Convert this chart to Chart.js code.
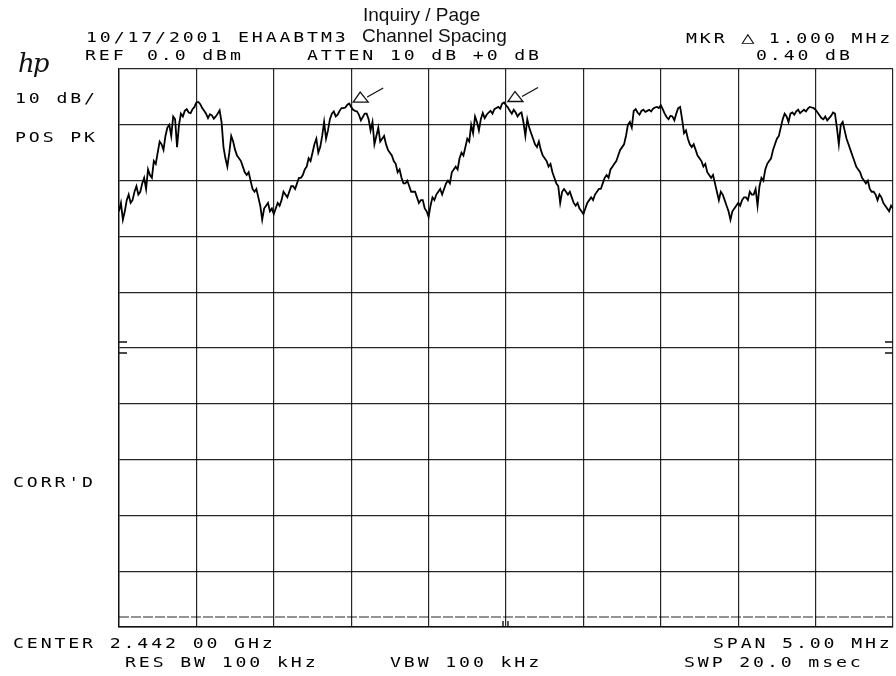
<!DOCTYPE html>
<html>
<head>
<meta charset="utf-8">
<script src="https://cdn.jsdelivr.net/npm/chart.js@4.4.1/dist/chart.umd.min.js"></script>
<style>
  html, body { margin: 0; padding: 0; background: #fff; overflow: hidden; }
  #wrap { position: relative; width: 896px; height: 676px; }
  canvas { position: absolute; left: 0; top: 0; }
  .plt { position: absolute; font-family: "DejaVu Sans Mono", monospace; font-size: 14px;
         line-height: 14px; letter-spacing: 2.2px; white-space: pre; color: #000;
         transform: scaleX(1.3); transform-origin: left top; }
  .plt .big { font-size: 17px; line-height: 14px; margin-right: -2px; }
  .ttl { position: absolute; font-family: "Liberation Sans", Arial, sans-serif; font-size: 19px;
         line-height: 19px; white-space: pre; color: #111; }
  .logo { position: absolute; font-family: "DejaVu Serif", serif; font-style: italic; font-size: 26px;
          line-height: 26px; color: #111; letter-spacing: -2px; }
</style>
</head>
<body>
<div id="wrap">
  <canvas id="spectrum" width="896" height="676"></canvas>

  <div class="ttl" style="left:363px; top:5px;">Inquiry / Page</div>
  <div class="plt" style="left:86px; top:30px;">10/17/2001 EHAABTM3</div>
  <div class="ttl" style="left:362px; top:26px;">Channel Spacing</div>
  <div class="plt" style="left:686px; top:30px;">MKR <span class="big">△</span> 1.000 MHz</div>

  <div class="logo" style="left:18px; top:50px;">hp</div>
  <div class="plt" style="left:85px; top:48px;">REF</div>
  <div class="plt" style="left:147px; top:48px;">0.0 dBm</div>
  <div class="plt" style="left:307px; top:48px;">ATTEN 10 dB +0 dB</div>
  <div class="plt" style="left:756px; top:48px;">0.40 dB</div>

  <div class="plt" style="left:15px; top:91px;">10 dB/</div>
  <div class="plt" style="left:15px; top:130px;">POS PK</div>
  <div class="plt" style="left:13px; top:475px;">CORR'D</div>

  <div class="plt" style="left:13px; top:636px;">CENTER 2.442 00 GHz</div>
  <div class="plt" style="left:713px; top:636px;">SPAN 5.00 MHz</div>
  <div class="plt" style="left:125px; top:655px;">RES BW 100 kHz</div>
  <div class="plt" style="left:390px; top:655px;">VBW 100 kHz</div>
  <div class="plt" style="left:684px; top:655px;">SWP 20.0 msec</div>
</div>

<script>
/************/
/*** DATA ***/
/************/

// Sweep: center 2442 MHz, span 5 MHz, 401 trace points
const startMHz = 2439.5;
const stopMHz = 2444.5;
const stepMHz = 0.0125;

// Trace levels in dBm from left to right
const traceDbm = [
  -25.5,-24.0,-27.0,-25.5,-23.5,-22.5,-24.0,-23.5,-22.0,-21.0,-22.5,-22.0,-20.5,-19.5,-21.5,-18.0,-19.0,-19.5,-16.5,-17.0,
  -15.0,-13.0,-13.5,-14.5,-12.0,-10.5,-10.0,-12.0, -8.5, -9.0,-14.0,-10.0, -8.0, -8.5, -7.5, -7.2, -7.8, -7.9, -7.2, -6.8,
   -6.0, -5.9, -6.3, -7.0, -7.5, -8.0, -8.8, -8.1, -8.3, -8.9, -8.5, -8.0, -7.4, -9.5,-14.0,-16.0,-17.5,-15.0,-12.0,-13.0,
  -14.5,-15.5,-16.0,-16.5,-17.5,-18.5,-19.0,-18.5,-20.0,-21.5,-22.0,-21.5,-23.0,-24.5,-27.0,-25.0,-24.5,-24.0,-25.5,-25.0,
  -26.0,-25.0,-24.0,-24.5,-23.5,-22.0,-22.5,-23.0,-22.0,-21.0,-21.0,-21.5,-20.5,-19.5,-19.5,-19.0,-18.0,-17.5,-16.0,-16.5,
  -15.0,-13.5,-12.5,-15.0,-14.0,-12.0, -9.5,-12.5,-11.0, -9.0, -8.0, -7.6, -8.5, -8.2, -7.5, -7.0, -7.0, -6.9, -6.4, -6.2,
   -6.8, -7.3, -7.5, -7.6, -8.2, -9.2, -8.6, -8.0, -8.0, -9.0,-11.0, -9.5,-13.5,-12.0,-10.5,-13.0,-12.5,-12.0,-13.5,-14.5,
  -15.0,-15.5,-16.5,-17.0,-18.5,-18.0,-19.5,-20.5,-20.5,-20.0,-21.0,-22.0,-22.0,-22.0,-23.0,-24.0,-23.5,-23.5,-25.0,-25.5,
  -26.5,-24.5,-23.0,-23.5,-22.5,-22.0,-21.5,-22.5,-21.5,-20.5,-20.0,-20.5,-18.5,-18.0,-17.5,-18.0,-16.0,-15.0,-15.5,-14.0,
  -12.5,-13.0,-10.0,-11.5, -8.5, -9.5,-11.0, -9.0, -7.9, -8.8, -8.2, -7.8, -7.5, -8.0, -7.2, -7.0, -6.8, -7.1, -6.2, -6.0,
   -6.5, -6.9, -7.5, -8.0, -7.3, -7.8, -8.5, -8.0, -7.8, -9.5,-12.0, -9.0,-10.5,-11.5,-12.5,-13.5,-14.0,-13.0,-14.5,-15.5,
  -16.0,-16.5,-17.5,-17.0,-18.5,-19.5,-20.5,-21.0,-24.0,-22.0,-21.5,-22.0,-22.5,-22.0,-23.0,-24.0,-24.5,-24.0,-25.0,-25.5,
  -26.0,-25.0,-24.0,-23.5,-23.0,-23.5,-22.5,-22.0,-21.5,-21.5,-20.5,-19.5,-19.0,-19.5,-18.0,-17.5,-17.0,-16.5,-15.5,-14.5,
  -14.0,-13.5,-12.0,-10.0, -9.5,-10.5, -7.5, -7.2, -7.8, -8.2, -7.5, -7.3, -7.7, -7.5, -7.3, -7.6, -7.1, -6.9, -6.8, -7.0,
   -6.5, -7.2, -8.0, -8.6, -9.0, -8.4, -8.5, -9.2, -8.0, -7.0, -6.8, -9.0,-11.5,-11.0,-12.5,-13.5,-14.0,-13.5,-14.5,-15.5,
  -16.0,-16.5,-17.5,-17.0,-18.5,-19.0,-19.5,-19.0,-20.5,-22.0,-23.5,-22.0,-22.5,-23.5,-24.5,-25.5,-27.0,-25.5,-25.0,-24.5,
  -24.0,-24.5,-23.5,-23.0,-23.0,-23.5,-22.0,-22.5,-22.5,-21.5,-24.5,-21.0,-19.5,-20.0,-18.0,-17.0,-16.5,-16.0,-14.5,-13.5,
  -12.5,-12.0,-10.5, -9.0, -8.0, -8.5, -9.5, -8.0, -7.8, -8.2, -7.6, -7.3, -7.9, -7.6, -7.3, -7.6, -7.1, -6.8, -6.9, -7.0,
   -7.3, -7.8, -8.3, -8.8, -9.0, -8.5, -9.2, -8.8, -8.4, -7.8, -8.0,-10.5,-13.5,-10.0, -9.5,-11.0,-12.5,-13.5,-14.5,-15.5,
  -16.5,-17.5,-18.0,-18.5,-19.5,-20.0,-20.5,-20.0,-21.5,-22.0,-22.0,-22.5,-23.5,-22.5,-23.0,-24.0,-24.5,-25.0,-25.5,-24.5,
  -25.0
];

// Delta marker pair (reference and active)
const markerFreqs = [2441.0, 2442.0];
const markerLevels = [-6.1, -6.0];

// Display line near the bottom of the screen
const displayLineDbm = -98.2;

// Screen: REF 0 dBm, 10 dB/div
const refLevelDbm = 0;
const dbPerDiv = 10;
const yDivisions = 10;


/*****************/
/*** FUNCTIONS ***/
/*****************/

function tracePoints() {
    return traceDbm.map((v, i) => ({x: startMHz + i * stepMHz, y: v}));
}

// Delta markers: small open triangle with an arrow pointing at it
const markerPlugin = {
    id: 'deltaMarkers',
    afterDatasetsDraw(chart) {
        const {ctx, scales: {x, y}} = chart;
        ctx.save();
        ctx.strokeStyle = '#111';
        ctx.fillStyle = '#fff';
        ctx.lineWidth = 1.3;
        markerFreqs.forEach((f, i) => {
            const px = x.getPixelForValue(f);
            const py = y.getPixelForValue(markerLevels[i]);
            ctx.beginPath();
            ctx.moveTo(px + 2, py - 1);
            ctx.lineTo(px + 9, py - 11);
            ctx.lineTo(px + 17, py - 1);
            ctx.closePath();
            ctx.fill();
            ctx.stroke();
            ctx.beginPath();
            ctx.moveTo(px + 16, py - 6);
            ctx.lineTo(px + 32, py - 15);
            ctx.stroke();
        });
        ctx.restore();
    }
};

// Graticule extras: centre-line ticks on both edges, centre tick at bottom
const screenPlugin = {
    id: 'screenTicks',
    afterDraw(chart) {
        const {ctx, chartArea: a, scales: {x, y}} = chart;
        const midY = y.getPixelForValue(refLevelDbm - dbPerDiv * yDivisions / 2);
        const midX = x.getPixelForValue((startMHz + stopMHz) / 2);
        ctx.save();
        ctx.strokeStyle = '#111';
        ctx.lineWidth = 1.4;
        ctx.beginPath();
        [-6, 5].forEach(d => {
            ctx.moveTo(a.left, midY + d); ctx.lineTo(a.left + 8, midY + d);
            ctx.moveTo(a.right, midY + d); ctx.lineTo(a.right - 8, midY + d);
        });
        [-3, 2].forEach(d => {
            ctx.moveTo(midX + d, a.bottom); ctx.lineTo(midX + d, a.bottom - 6);
        });
        ctx.stroke();
        ctx.restore();
    }
};


/****************/
/*** Plotting ***/
/****************/

function genSpectrumPlot(elementId) {
    const ctx = document.getElementById(elementId);
    const grid = {color: 'rgba(0,0,0,0.85)', lineWidth: 1.2, drawTicks: false};
    const border = {display: true, color: '#111', width: 1.4};
    return new Chart(ctx, {
        type: 'line',
        data: {
            datasets: [
                {data: tracePoints(), borderColor: '#000', borderWidth: 1.8,
                 pointRadius: 0, tension: 0},
                {data: [{x: startMHz, y: displayLineDbm}, {x: stopMHz, y: displayLineDbm}],
                 borderColor: 'rgba(0,0,0,0.85)', borderWidth: 1.1, borderDash: [10, 2],
                 pointRadius: 0}
            ]
        },
        options: {
            responsive: false,
            animation: false,
            layout: {padding: {left: 119, right: 3, top: 69, bottom: 49}},
            plugins: {legend: {display: false}, tooltip: {enabled: false}},
            scales: {
                x: {type: 'linear', min: startMHz, max: stopMHz,
                    ticks: {display: false, stepSize: 0.5}, grid: grid, border: border},
                y: {type: 'linear', min: refLevelDbm - dbPerDiv * yDivisions, max: refLevelDbm,
                    ticks: {display: false, stepSize: dbPerDiv}, grid: grid, border: border}
            }
        },
        plugins: [markerPlugin, screenPlugin]
    });
}


/************/
/*** INIT ***/
/************/

const chart = genSpectrumPlot('spectrum');
</script>
</body>
</html>
